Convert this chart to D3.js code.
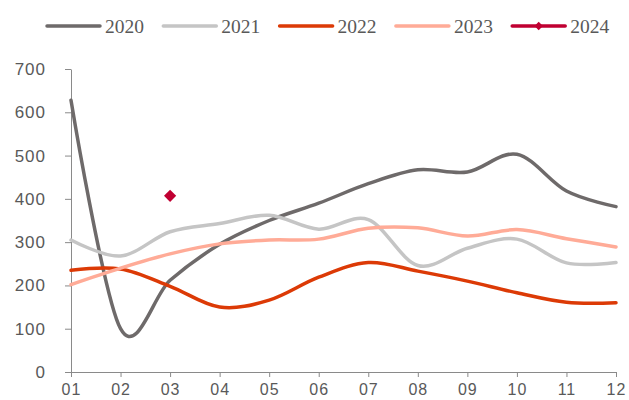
<!DOCTYPE html>
<html>
<head>
<meta charset="utf-8">
<script src="https://cdn.jsdelivr.net/npm/d3@7"></script>
<style>
  body { margin: 0; background: #fff; }
  svg { display: block; }
</style>
</head>
<body>
<div id="chart"></div>
<script>
const months = ['01', '02', '03', '04', '05', '06', '07', '08', '09', '10', '11', '12'];
const yTicks = [0, 100, 200, 300, 400, 500, 600, 700];

const s2020 = [628, 100, 212, 295, 350, 390, 435, 467, 462, 503, 418, 382];
const s2021 = [305, 268, 324, 343, 362, 330, 352, 246, 286, 307, 252, 253];
const s2022 = [235, 238, 198, 150, 166, 219, 253, 233, 210, 183, 161, 160];
const s2023 = [202, 240, 273, 296, 305, 307, 332, 333, 314, 329, 308, 289];
const s2024 = [null, null, 407, null, null, null, null, null, null, null, null, null];

const series = [
  { name: '2020', values: s2020, color: '#6e6a6a' },
  { name: '2021', values: s2021, color: '#c5c5c5' },
  { name: '2022', values: s2022, color: '#dc3a06' },
  { name: '2023', values: s2023, color: '#ffab97' },
  { name: '2024', values: s2024, color: '#c00032', marker: true }
];

const width = 629, height = 400;
const margin = { top: 69, left: 71, right: 13, bottom: 28 };

const svg = d3.select('#chart').append('svg')
  .attr('width', width)
  .attr('height', height);

const x = d3.scalePoint()
  .domain(months)
  .range([margin.left, width - margin.right]);

const y = d3.scaleLinear()
  .domain([0, 700])
  .range([height - margin.bottom, margin.top]);

// Axes
const yAxis = svg.append('g')
  .attr('transform', `translate(${margin.left},0)`)
  .call(d3.axisLeft(y).tickValues(yTicks).tickSize(6).tickPadding(19).tickSizeOuter(0));

const xAxis = svg.append('g')
  .attr('transform', `translate(0,${y(0)})`)
  .call(d3.axisBottom(x).tickSize(5).tickPadding(7).tickSizeOuter(0));

[yAxis, xAxis].forEach(g => {
  g.selectAll('path, line').attr('stroke', '#8a8a8a');
  g.selectAll('text')
    .attr('font-family', 'Liberation Sans, Arial, sans-serif')
    .attr('font-size', 17)
    .attr('letter-spacing', 1)
    .attr('fill', '#595959');
});
xAxis.selectAll('text').attr('font-size', 16);

// Lines
const line = d3.line()
  .defined(d => d.v != null)
  .x(d => x(d.m))
  .y(d => y(d.v))
  .curve(d3.curveCardinal.tension(0));

series.filter(s => !s.marker).forEach(s => {
  svg.append('path')
    .datum(s.values.map((v, i) => ({ m: months[i], v })))
    .attr('fill', 'none')
    .attr('stroke', s.color)
    .attr('stroke-width', 3.5)
    .attr('stroke-linecap', 'round')
    .attr('stroke-linejoin', 'round')
    .attr('d', line);
});

// 2024 point
const diamond = d3.symbol().type(d3.symbolDiamond2).size(95);
series.filter(s => s.marker).forEach(s => {
  svg.selectAll(null)
    .data(s.values.map((v, i) => ({ m: months[i], v })).filter(d => d.v != null))
    .join('path')
    .attr('transform', d => `translate(${x(d.m)},${y(d.v)})`)
    .attr('fill', s.color)
    .attr('d', diamond);
});

// Legend
const legend = svg.append('g').attr('transform', 'translate(47,26)');
series.forEach((s, i) => {
  const g = legend.append('g').attr('transform', `translate(${i * 116.3},0)`);
  g.append('line')
    .attr('x1', 0).attr('x2', 53)
    .attr('stroke', s.color)
    .attr('stroke-width', 3.5)
    .attr('stroke-linecap', 'round');
  if (s.marker) {
    g.append('path')
      .attr('transform', 'translate(26.5,0)')
      .attr('fill', s.color)
      .attr('d', d3.symbol().type(d3.symbolDiamond2).size(45));
  }
  g.append('text')
    .attr('x', 58)
    .attr('y', 0)
    .attr('dy', '0.35em')
    .attr('font-family', 'Liberation Serif, Times New Roman, serif')
    .attr('font-size', 19.5)
    .attr('fill', '#595959')
    .text(s.name);
});
</script>
</body>
</html>
